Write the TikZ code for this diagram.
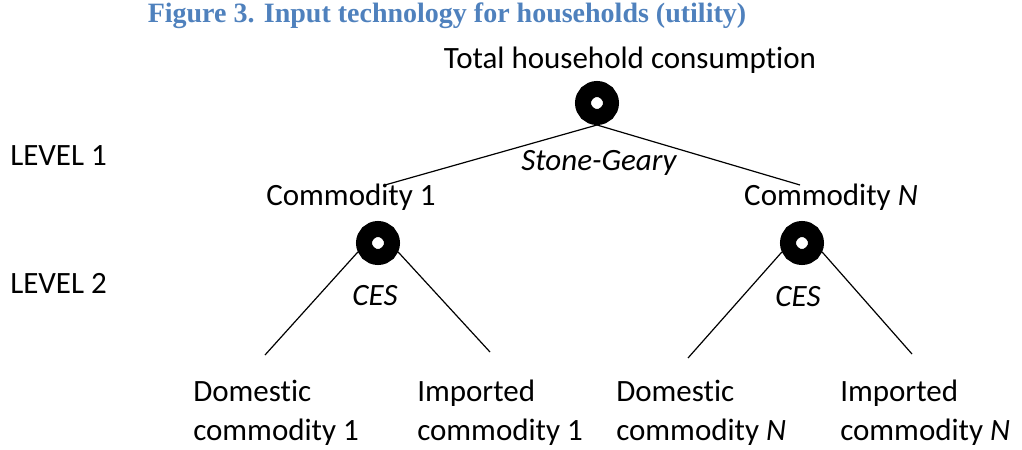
\documentclass[tikz,border=0pt]{standalone}
\usepackage{fontspec}
\setmainfont{Carlito}[Ligatures=NoCommon]
\newfontfamily\titlefont{Liberation Serif}
\definecolor{figblue}{RGB}{79,129,189}
\begin{document}
\begin{tikzpicture}[x=0.75pt,y=-0.75pt]
  \tikzstyle{every node}=[inner sep=0pt,font=\fontsize{23.25}{29.25}\selectfont]
  \tikzstyle{nest}=[circle,draw,line width=12pt,fill=white,minimum size=21pt]
  \tikzstyle{leaf}=[anchor=base west,align=left]
  \tikzstyle{branch}=[line width=0.9pt]
  \useasboundingbox (0,0) rectangle (1022,450);
  \node[anchor=base,text=figblue,font=\titlefont\bfseries\fontsize{21}{25}\selectfont] (title) at (447,22) {Figure 3. Input technology for households (utility)};
  \node[anchor=base] (total) at (630,68) {Total household consumption};
  \node[nest] (top) at (597,103) {};
  \node[anchor=base,font=\fontsize{23.25}{29.25}\selectfont\itshape] (sg) at (599,170) {Stone-Geary};
  \node[anchor=base west] (lev1) at (10,165) {LEVEL 1};
  \node[anchor=base west] (lev2) at (10,293) {LEVEL 2};
  \node[anchor=base] (com1) at (351,205) {Commodity 1};
  \node[anchor=base] (comN) at (831,205) {Commodity \textit{N}};
  \coordinate (c1) at (385,185);
  \coordinate (cN) at (800,185);
  \draw[branch] (top.south) -- (c1);
  \draw[branch] (top.south) -- (cN);
  \node[nest] (n1) at (378,243) {};
  \node[nest] (nN) at (802,243) {};
  \node[anchor=base,font=\fontsize{23.25}{29.25}\selectfont\itshape] (ces1) at (375,305) {CES};
  \node[anchor=base,font=\fontsize{23.25}{29.25}\selectfont\itshape] (cesN) at (798,306) {CES};
  \coordinate (d1) at (265,355);
  \coordinate (i1) at (490,352);
  \coordinate (dN) at (688,358);
  \coordinate (iN) at (912,354);
  \draw[branch] (n1.204) -- (d1);
  \draw[branch] (n1.336) -- (i1);
  \draw[branch] (nN.204) -- (dN);
  \draw[branch] (nN.336) -- (iN);
  \node[leaf] (dom1) at (193,440) {Domestic\\commodity 1};
  \node[leaf] (imp1) at (417,440) {Imported\\commodity 1};
  \node[leaf] (domN) at (616,440) {Domestic\\commodity \textit{N}};
  \node[leaf] (impN) at (840,440) {Imported\\commodity \textit{N}};
\end{tikzpicture}
\end{document}
